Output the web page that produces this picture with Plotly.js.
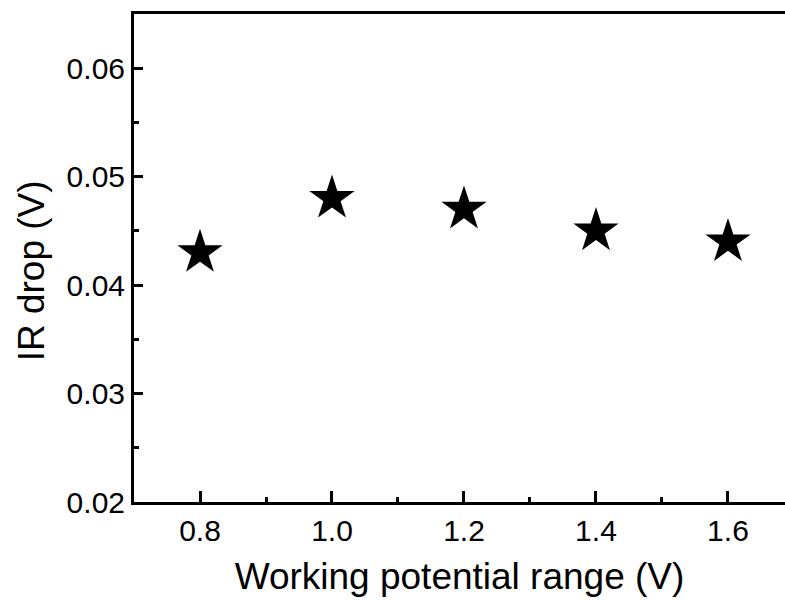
<!DOCTYPE html>
<html><head><meta charset="utf-8">
<script src="https://cdn.plot.ly/plotly-3.0.1.min.js"></script>
<style>html,body{margin:0;padding:0;background:#fff}#chart{width:785px;height:600px}</style>
</head><body><div id="chart"></div>
<script>
const potentialRange = [0.8, 1.0, 1.2, 1.4, 1.6];
const irDrop = [0.043, 0.048, 0.047, 0.045, 0.044];
const xTickVals = [0.8, 1.0, 1.2, 1.4, 1.6];
const xTickText = ['0.8', '1.0', '1.2', '1.4', '1.6'];
const yTickVals = [0.02, 0.03, 0.04, 0.05, 0.06];
const yTickText = ['0.02', '0.03', '0.04', '0.05', '0.06'];

const font = 'Liberation Sans, Arial, sans-serif';
const trace = {
  x: potentialRange, y: irDrop, type: 'scatter', mode: 'markers',
  marker: {symbol: 'star', size: 34, color: '#000', line: {width: 0}},
  cliponaxis: false, hoverinfo: 'skip'
};
const layout = {
  width: 785, height: 600,
  margin: {l: 134, r: 0, t: 14, b: 98},
  paper_bgcolor: '#fff', plot_bgcolor: '#fff',
  showlegend: false,
  xaxis: {
    range: [0.7, 1.6864], tickvals: xTickVals, ticktext: xTickText,
    ticks: 'inside', ticklen: 11, tickwidth: 3, tickcolor: '#000',
    minor: {tickvals: [0.9, 1.1, 1.3, 1.5], ticks: 'inside', ticklen: 5, tickwidth: 3, tickcolor: '#000'},
    showline: true, linewidth: 3, linecolor: '#000', mirror: true,
    showgrid: false, zeroline: false,
    tickfont: {family: font, size: 30, color: '#000'},
    title: {text: 'Working potential range (V)', font: {family: font, size: 37, color: '#000'}, standoff: 18}
  },
  yaxis: {
    range: [0.02, 0.065], tickvals: yTickVals, ticktext: yTickText,
    ticks: 'inside', ticklen: 9, tickwidth: 3, tickcolor: '#000',
    minor: {tickvals: [0.025, 0.035, 0.045, 0.055], ticks: 'inside', ticklen: 5, tickwidth: 3, tickcolor: '#000'},
    showline: true, linewidth: 3, linecolor: '#000', mirror: false,
    showgrid: false, zeroline: false,
    tickfont: {family: font, size: 30, color: '#000'}
  },
  annotations: [{
    text: 'IR drop (V)', textangle: -90, showarrow: false,
    xref: 'paper', yref: 'paper', x: -0.158, y: 0.473,
    xanchor: 'center', yanchor: 'middle',
    font: {family: font, size: 37, color: '#000'}
  }]
};
Plotly.newPlot('chart', [trace], layout, {displayModeBar: false, staticPlot: true});
</script></body></html>
